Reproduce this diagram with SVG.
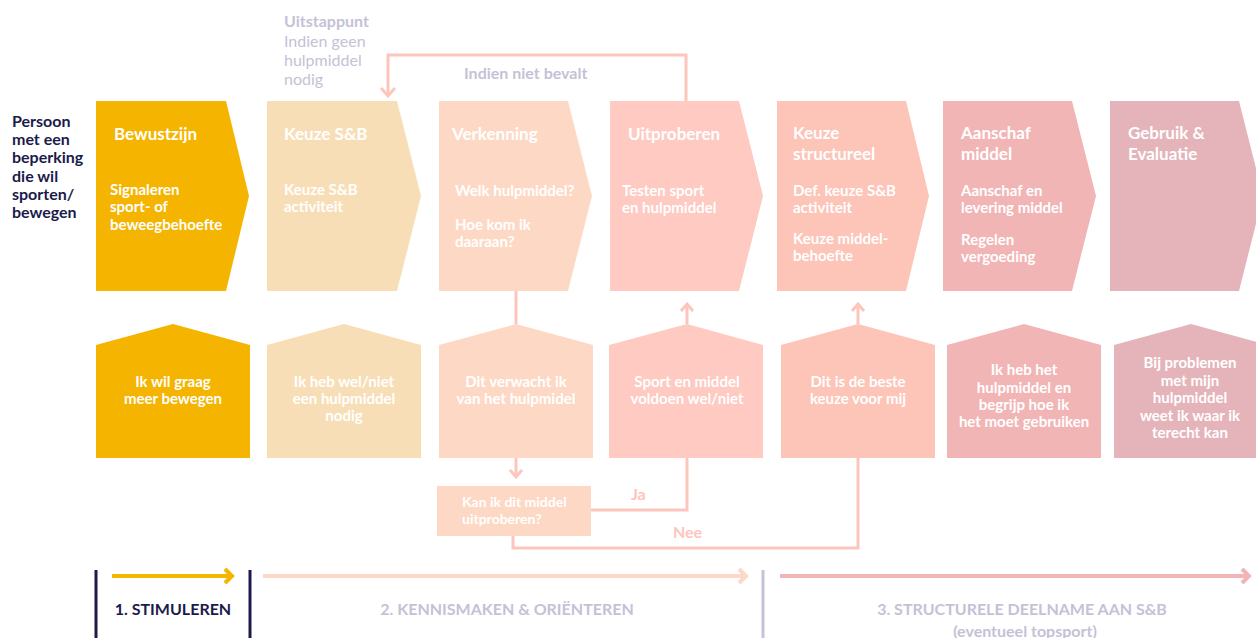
<svg xmlns="http://www.w3.org/2000/svg" width="1256" height="638" viewBox="0 0 1256 638">
<style>
text{font-family:Lato,"Noto Sans","Liberation Sans",sans-serif;}
.t{font-size:17px;font-weight:700;fill:#fff;}
.s{font-size:15px;font-weight:700;fill:#fff;}
.h{font-size:15px;font-weight:700;fill:#fff;text-anchor:middle;}
.conn{fill:none;stroke:#FDC5BC;stroke-width:3;}
.gray{fill:#C4C2D6;}
.navy{fill:#1B1B4B;}
.leg{font-size:16px;font-weight:700;text-anchor:middle;}
.c1{fill:#F4B400;}.c2{fill:#F8DEB6;}.c3{fill:#FDD9C5;}.c4{fill:#FECAC1;}.c5{fill:#FDC4B8;}.c6{fill:#F2B5B5;}.c7{fill:#E4B4BA;}
</style>
<rect width="1256" height="638" fill="#fff"/>

<g id="persoon">
<text class="navy" font-size="16" font-weight="700" x="12" y="127">Persoon</text>
<text class="navy" font-size="16" font-weight="700" x="12" y="145">met een</text>
<text class="navy" font-size="16" font-weight="700" x="12" y="163">beperking</text>
<text class="navy" font-size="16" font-weight="700" x="12" y="182">die wil</text>
<text class="navy" font-size="16" font-weight="700" x="12" y="200">sporten/</text>
<text class="navy" font-size="16" font-weight="700" x="12" y="218">bewegen</text>
</g>

<g id="uitstappunt">
<text class="gray" font-size="16" font-weight="700" x="284" y="27">Uitstappunt</text>
<text class="gray" font-size="16" x="284" y="47">Indien geen</text>
<text class="gray" font-size="16" x="284" y="66">hulpmiddel</text>
<text class="gray" font-size="16" x="284" y="85">nodig</text>
</g>

<g id="connectors">
<path class="conn" d="M686,101 V55 H388 V96"/>
<path class="conn" d="M381,88 L388,96 L395,88"/>
<path class="conn" d="M516,291 V324"/>
<path class="conn" d="M516,458 V477"/>
<path class="conn" d="M510,470 L516,477 L522,470"/>
<path class="conn" d="M591,510 H687 V458"/>
<path class="conn" d="M687,324 V304"/>
<path class="conn" d="M681,311 L687,304 L693,311"/>
<path class="conn" d="M513,536 V548 H858 V458"/>
<path class="conn" d="M858,324 V304"/>
<path class="conn" d="M852,311 L858,304 L864,311"/>
<text class="gray" font-size="16" font-weight="700" x="464" y="79">Indien niet bevalt</text>
<text fill="#FDC5BC" font-size="16" font-weight="700" x="631" y="500">Ja</text>
<text fill="#FDC5BC" font-size="16" font-weight="700" x="673" y="538">Nee</text>
</g>

<g id="bewustzijn">
<path class="c1" d="M96,101 H226 L249,196 L226,291 H96 Z"/>
<text class="t" x="114" y="140">Bewustzijn</text>
<text class="s" x="110" y="195">Signaleren</text>
<text class="s" x="110" y="212">sport- of</text>
<text class="s" x="110" y="230">beweegbehoefte</text>
</g>
<g id="keuze-sb">
<path class="c2" d="M267,101 H397 L421,196 L397,291 H267 Z"/>
<text class="t" x="284" y="140">Keuze S&amp;B</text>
<text class="s" x="284" y="195">Keuze S&amp;B</text>
<text class="s" x="284" y="212">activiteit</text>
</g>
<g id="verkenning">
<path class="c3" d="M439,101 H568 L592,196 L568,291 H439 Z"/>
<text class="t" x="452" y="140">Verkenning</text>
<text class="s" x="455" y="196">Welk hulpmiddel?</text>
<text class="s" x="455" y="230">Hoe kom ik</text>
<text class="s" x="455" y="247">daaraan?</text>
</g>
<g id="uitproberen">
<path class="c4" d="M610,101 H739 L763,196 L739,291 H610 Z"/>
<text class="t" x="628" y="140">Uitproberen</text>
<text class="s" x="622" y="196">Testen sport</text>
<text class="s" x="622" y="213">en hulpmiddel</text>
</g>
<g id="keuze-structureel">
<path class="c5" d="M777,101 H906 L929,196 L906,291 H777 Z"/>
<text class="t" x="793" y="138.5">Keuze</text>
<text class="t" x="793" y="159.5">structureel</text>
<text class="s" x="793" y="196">Def. keuze S&amp;B</text>
<text class="s" x="793" y="213">activiteit</text>
<text class="s" x="793" y="244">Keuze middel-</text>
<text class="s" x="793" y="261">behoefte</text>
</g>
<g id="aanschaf">
<path class="c6" d="M943,101 H1072 L1096,196 L1072,291 H943 Z"/>
<text class="t" x="961" y="138.5">Aanschaf</text>
<text class="t" x="961" y="159.5">middel</text>
<text class="s" x="961" y="196">Aanschaf en</text>
<text class="s" x="961" y="213">levering middel</text>
<text class="s" x="961" y="245">Regelen</text>
<text class="s" x="961" y="262">vergoeding</text>
</g>
<g id="gebruik">
<path class="c7" d="M1110,101 H1239 L1263,196 L1239,291 H1110 Z"/>
<text class="t" x="1128" y="138.5">Gebruik &amp;</text>
<text class="t" x="1128" y="159.5">Evaluatie</text>
</g>

<g id="house1">
<path class="c1" d="M96,345 L173,324 L250,345 V458 H96 Z"/>
<text class="h" x="173" y="387">Ik wil graag</text>
<text class="h" x="173" y="404">meer bewegen</text>
</g>
<g id="house2">
<path class="c2" d="M267,345 L344,324 L421,345 V458 H267 Z"/>
<text class="h" x="344" y="387">Ik heb wel/niet</text>
<text class="h" x="344" y="404">een hulpmiddel</text>
<text class="h" x="344" y="421">nodig</text>
</g>
<g id="house3">
<path class="c3" d="M439,345 L516,324 L593,345 V458 H439 Z"/>
<text class="h" x="516" y="387">Dit verwacht ik</text>
<text class="h" x="516" y="404">van het hulpmidel</text>
</g>
<g id="house4">
<path class="c4" d="M609,345 L687,324 L763,345 V458 H609 Z"/>
<text class="h" x="687" y="387">Sport en middel</text>
<text class="h" x="687" y="404">voldoen wel/niet</text>
</g>
<g id="house5">
<path class="c5" d="M781,345 L858,324 L935,345 V458 H781 Z"/>
<text class="h" x="858" y="387">Dit is de beste</text>
<text class="h" x="858" y="404">keuze voor mij</text>
</g>
<g id="house6">
<path class="c6" d="M947,345 L1024,324 L1101,345 V458 H947 Z"/>
<text class="h" x="1024" y="375">Ik heb het</text>
<text class="h" x="1024" y="393">hulpmiddel en</text>
<text class="h" x="1024" y="410">begrijp hoe ik</text>
<text class="h" x="1024" y="427">het moet gebruiken</text>
</g>
<g id="house7">
<path class="c7" d="M1114,345 L1191,324 L1268,345 V458 H1114 Z"/>
<text class="h" x="1190" y="368">Bij problemen</text>
<text class="h" x="1190" y="386">met mijn</text>
<text class="h" x="1190" y="403">hulpmiddel</text>
<text class="h" x="1190" y="421">weet ik waar ik</text>
<text class="h" x="1190" y="438">terecht kan</text>
</g>

<g id="vraag">
<rect class="c3" x="437" y="486" width="154" height="50"/>
<text fill="#fff" font-size="14" font-weight="700" x="462" y="507">Kan ik dit middel</text>
<text fill="#fff" font-size="14" font-weight="700" x="462" y="524">uitproberen?</text>
</g>

<g id="legend">
<line x1="96" y1="570" x2="96" y2="638" stroke="#1B1B4B" stroke-width="3"/>
<line x1="250" y1="570" x2="250" y2="638" stroke="#1B1B4B" stroke-width="3"/>
<line x1="763" y1="570" x2="763" y2="638" stroke="#C4C2D6" stroke-width="3"/>
<path d="M112,576 H232 M225,569 L232,576 L225,583" fill="none" stroke="#F4B400" stroke-width="4"/>
<path d="M263,576 H746 M739,569 L746,576 L739,583" fill="none" stroke="#FDD9C5" stroke-width="4"/>
<path d="M780,576 H1249 M1242,569 L1249,576 L1242,583" fill="none" stroke="#F2B5B5" stroke-width="4"/>
<text class="leg navy" x="173" y="615">1. STIMULEREN</text>
<text class="leg gray" x="507" y="615">2. KENNISMAKEN &amp; ORIËNTEREN</text>
<text class="leg gray" x="1022" y="615">3. STRUCTURELE DEELNAME AAN S&amp;B</text>
<text class="leg gray" x="1025" y="637">(eventueel topsport)</text>
</g>
</svg>
